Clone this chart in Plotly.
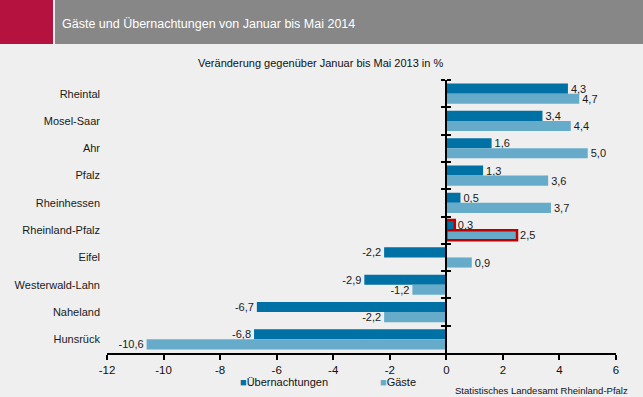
import plotly.graph_objects as go

regions = ["Rheintal", "Mosel-Saar", "Ahr", "Pfalz", "Rheinhessen",
           "Rheinland-Pfalz", "Eifel", "Westerwald-Lahn", "Naheland", "Hunsrück"]
uebernachtungen = [4.3, 3.4, 1.6, 1.3, 0.5, 0.3, -2.2, -2.9, -6.7, -6.8]
gaeste = [4.7, 4.4, 5.0, 3.6, 3.7, 2.5, 0.9, -1.2, -2.2, -10.6]
x_ticks = [-12, -10, -8, -6, -4, -2, 0, 2, 4, 6]
x_tick_labels = ["-12", "-10", "-8", "-6", "-4", "-2", "0", "2", "4", "6"]
highlight = "Rheinland-Pfalz"

title = "Gäste und Übernachtungen von Januar bis Mai 2014"
subtitle = "Veränderung gegenüber Januar bis Mai 2013 in %"
source = "Statistisches Landesamt Rheinland-Pfalz"

C_DARK = "#0071A4"
C_LIGHT = "#66ACCA"
C_RED = "#C00000"
BG = "#EEEFEE"
FONT = "Liberation Sans, Arial, sans-serif"

W, H = 643, 397
L, R, T, B = 107, 27, 80, 44
PW, PH = W - L - R, H - T - B


def px(x):
    return (x - L) / PW


def py(y):
    return (H - B - y) / PH


def fmt(v):
    return f"{v:.1f}".replace(".", ",")


line_w = [2.5 if r == highlight else 0 for r in regions]

fig = go.Figure()
fig.add_trace(go.Bar(
    y=regions, x=uebernachtungen, orientation="h", name="Übernachtungen",
    marker=dict(color=C_DARK, line=dict(color=C_RED, width=line_w)),
    text=[fmt(v) for v in uebernachtungen], textposition="outside",
    constraintext="none", cliponaxis=False,
    textfont=dict(family=FONT, size=11, color="#1a1a1a"),
))
fig.add_trace(go.Bar(
    y=regions, x=gaeste, orientation="h", name="Gäste",
    marker=dict(color=C_LIGHT, line=dict(color=C_RED, width=line_w)),
    text=[fmt(v) for v in gaeste], textposition="outside",
    constraintext="none", cliponaxis=False,
    textfont=dict(family=FONT, size=11, color="#1a1a1a"),
))
# helper traces so the zero-line axes with crossing ticks are drawn
for ax in ("y2", "y3"):
    fig.add_trace(go.Scatter(
        y=regions, x=[0] * len(regions), yaxis=ax, mode="markers",
        marker=dict(opacity=0), showlegend=False, hoverinfo="skip",
    ))

zero_pos = (0 - x_ticks[0]) / (x_ticks[-1] - x_ticks[0])
y_range = [len(regions) - 0.5, -0.5]
common_zero = dict(
    overlaying="y", matches="y", anchor="free", position=zero_pos,
    showline=True, linecolor="black", linewidth=2,
    ticks="outside", ticklen=4, tickwidth=1.5, tickcolor="black",
    tickson="boundaries", showticklabels=False, showgrid=False,
    type="category",
)

fig.update_layout(
    width=W, height=H,
    margin=dict(l=L, r=R, t=T, b=B, pad=0),
    paper_bgcolor=BG, plot_bgcolor=BG,
    barmode="group", bargap=0.26, bargroupgap=0,
    showlegend=False,
    font=dict(family=FONT, size=11, color="#1a1a1a"),
    xaxis=dict(
        range=[x_ticks[0], x_ticks[-1]], tickvals=x_ticks, ticktext=x_tick_labels,
        ticks="outside", ticklen=5, tickwidth=1.5, tickcolor="black",
        showline=True, linecolor="black", linewidth=2,
        showgrid=False, zeroline=False, fixedrange=True,
        tickfont=dict(size=11.5, color="#111"),
    ),
    yaxis=dict(
        type="category", range=y_range, autorange=False,
        showgrid=False, showline=False,
        ticks="", ticklabelstandoff=6, zeroline=False,
        tickfont=dict(size=11, color="#1a1a1a"),
    ),
    yaxis2=dict(side="left", **common_zero),
    yaxis3=dict(side="right", **common_zero),
    shapes=[
        dict(type="rect", xref="paper", yref="paper", x0=px(0), x1=px(53),
             y0=py(44), y1=py(0), fillcolor="#B5123F", line=dict(width=0), layer="below"),
        dict(type="rect", xref="paper", yref="paper", x0=px(55), x1=px(W),
             y0=py(44), y1=py(0), fillcolor="#878787", line=dict(width=0), layer="below"),
    ],
    annotations=[
        dict(text=title, xref="paper", yref="paper", x=px(60), y=py(24),
             xanchor="left", yanchor="middle", showarrow=False,
             font=dict(size=12.5, color="white")),
        dict(text=subtitle, xref="paper", yref="paper", x=px(320), y=py(63),
             xanchor="center", yanchor="middle", showarrow=False,
             font=dict(size=11, color="#111")),
        dict(text=f"<span style='color:{C_DARK}'>■</span>Übernachtungen",
             xref="paper", yref="paper", x=px(238), y=py(382),
             xanchor="left", yanchor="middle", showarrow=False,
             font=dict(size=11, color="#111")),
        dict(text=f"<span style='color:{C_LIGHT}'>■</span>Gäste",
             xref="paper", yref="paper", x=px(378), y=py(382),
             xanchor="left", yanchor="middle", showarrow=False,
             font=dict(size=11, color="#111")),
        dict(text=source, xref="paper", yref="paper", x=px(630), y=py(390),
             xanchor="right", yanchor="middle", showarrow=False,
             font=dict(size=9.5, color="#111")),
    ],
)

fig.write_html("out.html", config=dict(displayModeBar=False),
               post_script="document.body.style.margin='0';")
